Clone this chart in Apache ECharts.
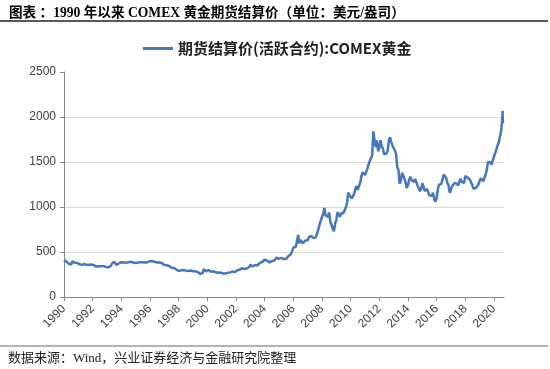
<!DOCTYPE html>
<html><head><meta charset="utf-8">
<script src="https://cdn.jsdelivr.net/npm/echarts@6/dist/echarts.min.js"></script>
<style>html,body{margin:0;padding:0;background:#fff}#c{width:550px;height:369px}</style>
</head><body><div id="c"></div>
<script>
// Data
const titleText = '图表 ：1990 年以来 COMEX 黄金期货结算价（单位：美元/盎司）';
const sourceText = '数据来源：Wind，兴业证券经济与金融研究院整理';
const seriesName = '期货结算价(活跃合约):COMEX黄金';
const startYear = 1990;
const yTicks = [0, 500, 1000, 1500, 2000, 2500];
const xTickYears = [1990,1992,1994,1996,1998,2000,2002,2004,2006,2008,2010,2012,2014,2016,2018,2020];
// monthly settlement prices, Jan 1990 .. Jul 2020
const monthlyPrices = [
 410,417,393,374,369,352,362,395,389,381,381,378,
 384,364,356,357,357,367,368,356,349,359,360,361,
 354,354,345,338,337,341,353,343,345,345,335,334,
 329,330,330,342,367,372,393,379,355,365,374,383,
 387,382,384,378,381,386,385,380,391,389,384,379,
 378,376,382,391,385,387,386,383,383,383,386,387,
 400,405,396,393,392,385,383,387,383,381,378,369,
 355,347,352,344,344,341,324,324,323,325,306,289,
 289,297,296,308,299,292,293,284,289,296,294,292,
 287,288,286,282,277,262,256,257,265,311,293,284,
 284,300,286,280,275,286,282,274,273,270,266,272,
 266,262,263,260,272,270,268,273,283,283,276,276,
 282,296,294,302,314,321,314,310,319,317,319,333,
 357,359,340,328,355,356,351,360,379,379,389,407,
 414,405,406,404,384,392,398,400,406,420,439,442,
 424,423,434,429,422,430,424,437,456,470,476,510,
 549,555,557,610,690,596,633,632,598,586,627,629,
 631,665,655,679,667,655,665,665,712,754,806,803,
 889,922,990,909,888,889,939,839,829,760,730,816,
 858,943,924,890,928,946,934,949,996,1043,1160,1134,
 1118,1095,1113,1148,1205,1232,1193,1215,1271,1342,1385,1391,
 1356,1372,1424,1473,1510,1528,1572,1840,1740,1665,1739,1620,
 1656,1743,1673,1650,1585,1596,1594,1626,1744,1775,1721,1684,
 1671,1627,1593,1440,1414,1260,1286,1380,1349,1316,1275,1210,
 1244,1300,1336,1299,1287,1279,1311,1296,1239,1223,1176,1202,
 1265,1227,1179,1198,1199,1181,1128,1118,1125,1159,1086,1060,
 1097,1200,1246,1243,1260,1276,1360,1341,1326,1267,1238,1157,
 1192,1234,1231,1267,1246,1260,1237,1283,1315,1280,1283,1265,
 1345,1331,1325,1335,1303,1282,1238,1202,1198,1215,1221,1250,
 1291,1320,1301,1286,1283,1359,1413,1500,1510,1495,1471,1480,
 1560,1597,1591,1683,1716,1732,1846
];
// late points (decimal year, price)
const lateYears = [2020.58, 2020.6, 2020.62, 2020.64];
const latePrices = [1985, 2070, 1930, 1945];

const points = monthlyPrices.map((v, i) => [startYear + i / 12, v])
  .concat(lateYears.map((y, i) => [y, latePrices[i]]));

const chart = echarts.init(document.getElementById('c'));
const blue = '#4677BB';
const latinCJK = 'Liberation Serif, "Noto Sans CJK SC", serif';
chart.setOption({
  animation: false,
  backgroundColor: '#fff',
  title: {
    text: titleText, left: 4, top: 2,
    textStyle: { fontFamily: latinCJK, fontSize: 13.6, fontWeight: 'bold', color: '#000' }
  },
  graphic: [
    { type: 'line', shape: { x1: 0, y1: 21, x2: 548, y2: 21 }, style: { stroke: '#222', lineWidth: 1.5 } },
    { type: 'line', shape: { x1: 0, y1: 346, x2: 548, y2: 346 }, style: { stroke: '#666', lineWidth: 1 } },
    { type: 'text', left: 8, top: 352, style: { text: sourceText, font: '13px ' + latinCJK, fill: '#222' } }
  ],
  legend: {
    top: 36, left: 138,
    itemWidth: 30, itemHeight: 3, icon: 'rect', itemGap: 4,
    textStyle: { fontFamily: '"Noto Sans CJK SC", sans-serif', fontSize: 15, fontWeight: 'bold', color: '#222' },
    data: [seriesName]
  },
  grid: { left: 64, right: 46, top: 72, bottom: 72, containLabel: false },
  xAxis: {
    type: 'value', min: startYear, max: 2020.7,
    axisLine: { lineStyle: { color: '#868686', width: 1 } },
    axisTick: { show: true, length: 4, lineStyle: { color: '#868686' }, customValues: xTickYears },
    axisLabel: { customValues: xTickYears, rotate: 45, color: '#404040', fontSize: 12, fontFamily: 'Liberation Sans, Arial, sans-serif', margin: 10,
      formatter: v => String(Math.round(v)) },
    splitLine: { show: false }
  },
  yAxis: {
    type: 'value', min: 0, max: 2500, interval: 500,
    axisLine: { show: true, lineStyle: { color: '#868686', width: 1 } },
    axisTick: { show: true, length: 4, lineStyle: { color: '#868686' } },
    axisLabel: { color: '#404040', fontSize: 12, fontFamily: 'Liberation Sans, Arial, sans-serif', margin: 8, formatter: v => String(v) },
    splitLine: { show: true, lineStyle: { color: ['rgba(0,0,0,0)', '#D9D9D9', '#D9D9D9', '#D9D9D9', '#D9D9D9', 'rgba(0,0,0,0)'], width: 1 } }
  },
  series: [{
    name: seriesName, type: 'line', data: points, showSymbol: false, symbol: 'none',
    lineStyle: { color: blue, width: 2.5 }, itemStyle: { color: blue }
  }]
});
</script></body></html>
